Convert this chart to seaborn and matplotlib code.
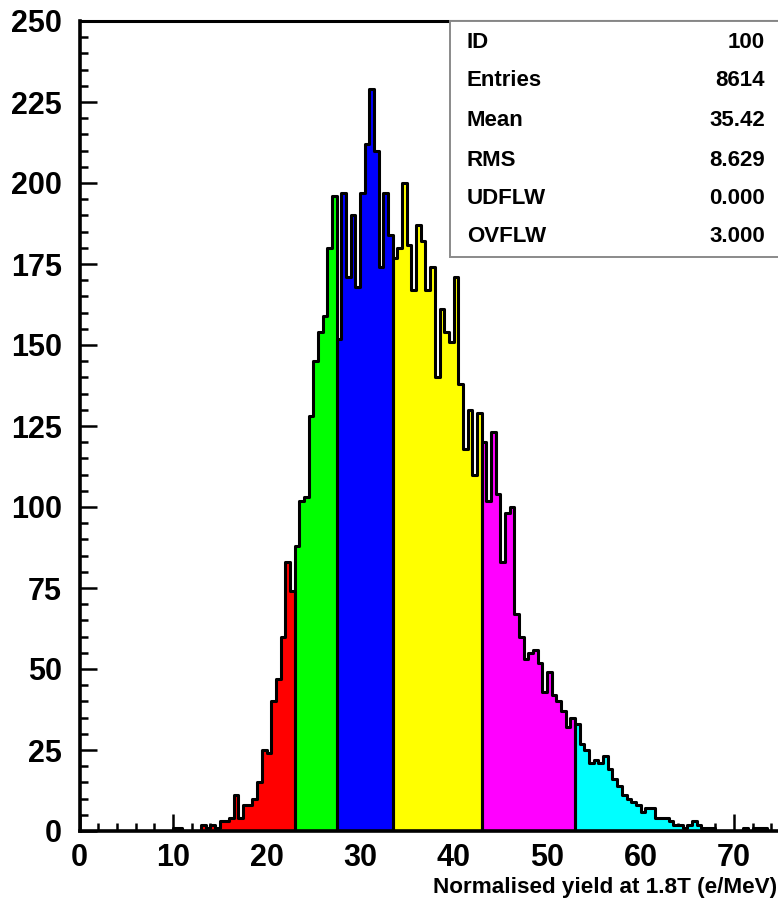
import numpy as np
import pandas as pd
import matplotlib
matplotlib.use("Agg")
import matplotlib.pyplot as plt
from matplotlib.patches import Rectangle
from matplotlib.ticker import MultipleLocator
import seaborn as sns

# Histogram of normalised yield, 0.5 e/MeV bins starting at 10.0
bin_start = 10.0
bin_width = 0.5
counts = [
    1, 1, 0, 0, 0, 0, 2, 1, 2, 1,            # 10.0 - 14.5
    3, 3, 4, 11, 4, 8, 8, 10, 15, 25,        # 15.0 - 19.5
    24, 40, 47, 60, 83, 74, 88, 102, 103, 128,   # 20.0 - 24.5
    145, 154, 159, 180, 196, 152, 197, 171, 190, 168,  # 25.0 - 29.5
    197, 212, 229, 210, 174, 197, 184, 177, 180, 200,  # 30.0 - 34.5
    181, 167, 187, 182, 167, 174, 140, 161, 154, 151,  # 35.0 - 39.5
    171, 138, 118, 130, 110, 129, 120, 102, 123, 104,  # 40.0 - 44.5
    83, 98, 100, 67, 60, 53, 55, 56, 52, 43,           # 45.0 - 49.5
    49, 42, 40, 37, 32, 35, 33, 27, 25, 21,            # 50.0 - 54.5
    22, 21, 23, 19, 16, 14, 11, 10, 9, 8,              # 55.0 - 59.5
    6, 7, 7, 4, 4, 4, 3, 2, 2, 1,                      # 60.0 - 64.5
    2, 3, 2, 1, 1, 1, 0, 0, 0, 0,                      # 65.0 - 69.5
    0, 0, 1, 0, 1, 1, 1, 0, 0,                         # 70.0 - 74.0
]

# Colour bands along the yield axis
band_edges = [bin_start, 23.0, 27.5, 33.5, 43.0, 53.0, 74.5]
band_colors = ["#ff0000", "#00ff00", "#0000ff", "#ffff00", "#ff00ff", "#00ffff"]

stats_names = ["ID", "Entries", "Mean", "RMS", "UDFLW", "OVFLW"]
stats_values = ["100", "8614", "35.42", "8.629", "0.000", "3.000"]

x_label = "Normalised yield at 1.8T (e/MeV)"

lows = bin_start + bin_width * np.arange(len(counts))
df = pd.DataFrame({"low": lows, "center": lows + bin_width / 2, "count": counts})

sns.set_style("ticks")
plt.rcParams["font.family"] = ["Liberation Sans", "DejaVu Sans"]
plt.rcParams["text.color"] = "black"
plt.rcParams["xtick.color"] = "black"
plt.rcParams["ytick.color"] = "black"
plt.rcParams["axes.edgecolor"] = "black"

W, H = 778, 907
fig = plt.figure(figsize=(W / 100, H / 100), dpi=100)
left_px, right_px, top_px, bottom_px = 79.5, 778, 21, 831
ax = fig.add_axes([left_px / W, 1 - bottom_px / H,
                   (right_px - left_px) / W, (bottom_px - top_px) / H])

x_max = 74.7

# filled bands first, then their black outlines on top
for pass_no in (0, 1):
    for lo, hi, col in zip(band_edges[:-1], band_edges[1:], band_colors):
        sub = df[(df["low"] >= lo - 1e-9) & (df["low"] < hi - 1e-9)]
        common = dict(data=sub, x="center", weights="count",
                      binwidth=bin_width, binrange=(lo, hi),
                      element="step", fill=True, ax=ax)
        if pass_no == 0:
            sns.histplot(color=col, alpha=1, edgecolor="none", linewidth=0,
                         **common)
        else:
            sns.histplot(color="black", facecolor="none", edgecolor="black",
                         linewidth=2.2, **common)

ax.set_xlim(0, x_max)
ax.set_ylim(0, 250)
ax.set_xlabel("")
ax.set_ylabel("")

ax.xaxis.set_major_locator(MultipleLocator(10))
ax.xaxis.set_minor_locator(MultipleLocator(2))
ax.yaxis.set_major_locator(MultipleLocator(25))
ax.yaxis.set_minor_locator(MultipleLocator(5))
ax.tick_params(which="both", direction="in", top=False, right=False,
               color="black", width=1.8)
ax.tick_params(which="major", length=12, labelsize=22, pad=9)
ax.tick_params(axis="y", which="major", pad=12.5)
ax.tick_params(which="minor", length=6)
for lab in ax.get_xticklabels() + ax.get_yticklabels():
    lab.set_fontweight("bold")

for side in ("left", "bottom"):
    ax.spines[side].set_linewidth(2.6)
ax.spines["top"].set_visible(True)
ax.spines["top"].set_linewidth(2.2)
ax.spines["right"].set_visible(False)
ax.patch.set_facecolor("white")

# statistics box in the upper right corner
box_l, box_t, box_b = 450, 21, 257
fig.add_artist(Rectangle((box_l / W, 1 - box_b / H), (W + 10 - box_l) / W,
                         (box_b - box_t) / H, transform=fig.transFigure,
                         facecolor="white", edgecolor="#8a8a8a", linewidth=1.4,
                         zorder=5))
ax.spines["top"].set_zorder(6)
row_y = [43, 81, 121, 160, 198, 237]
for name, val, y in zip(stats_names, stats_values, row_y):
    fig.text(467 / W, 1 - y / H, name, ha="left", va="center",
             fontsize=16, fontweight="bold", zorder=7)
    fig.text(765 / W, 1 - y / H, val, ha="right", va="center",
             fontsize=16, fontweight="bold", zorder=7)

fig.text(777 / W, 1 - 888 / H, x_label, ha="right", va="center",
         fontsize=16.2, fontweight="bold")

fig.savefig("out.png", dpi=100, facecolor="white")
